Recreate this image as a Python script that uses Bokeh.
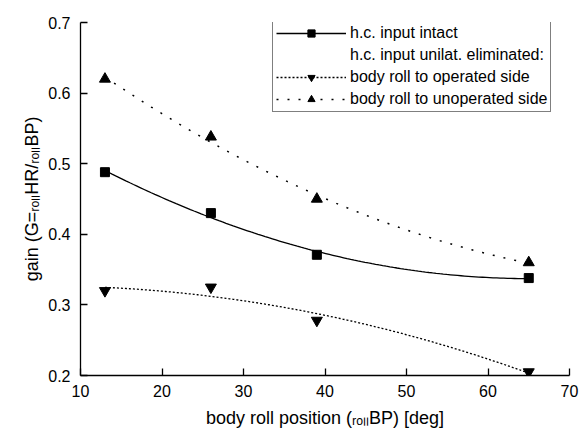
import numpy as np
from bokeh.plotting import figure
from bokeh.models import Legend, LegendItem, Range1d
from bokeh.embed import file_html
from bokeh.resources import INLINE

# ---- data ----
position = [13, 26, 39, 65]                      # body roll position [deg]
gain_intact = [0.488, 0.430, 0.371, 0.338]      # h.c. input intact
gain_operated = [0.320, 0.325, 0.278, 0.205]    # body roll to operated side
gain_unoperated = [0.620, 0.538, 0.450, 0.360]  # body roll to unoperated side
x_ticks = [10, 20, 30, 40, 50, 60, 70]
y_ticks = [0.2, 0.3, 0.4, 0.5, 0.6, 0.7]
legend_labels = ["h.c. input intact", "h.c. input unilat. eliminated:",
                 "body roll to operated side", "body roll to unoperated side"]
x_label = "body roll position (\u1d63\u2092\u2097\u2097BP) [deg]"
y_label = "gain (G=\u1d63\u2092\u2097\u2097HR/\u1d63\u2092\u2097\u2097BP)"

FONT = "Liberation Sans"

p = figure(frame_width=489, frame_height=353, output_backend="svg", toolbar_location=None,
           x_range=Range1d(10, 70), y_range=Range1d(0.2, 0.7),
           min_border_left=80, min_border_right=16, min_border_top=22, min_border_bottom=54)
p.background_fill_color = "white"
p.border_fill_color = "white"
p.outline_line_color = None
p.xgrid.visible = False
p.ygrid.visible = False

for ax in (p.xaxis[0], p.yaxis[0]):
    ax.axis_line_color = "black"
    ax.axis_line_width = 1.3
    ax.major_tick_line_color = "black"
    ax.major_tick_line_width = 1.3
    ax.major_tick_in = 7
    ax.major_tick_out = 0
    ax.minor_tick_line_color = None
    ax.major_label_text_font = FONT
    ax.major_label_text_font_size = "16px"
    ax.major_label_text_color = "black"
    ax.axis_label_text_font = FONT
    ax.axis_label_text_font_size = "18px"
    ax.axis_label_text_font_style = "normal"
    ax.axis_label_text_color = "black"
p.xaxis.ticker = x_ticks
p.yaxis.ticker = y_ticks
p.xaxis.major_label_standoff = 9
p.yaxis.major_label_standoff = 10
p.xaxis.axis_label = x_label
p.yaxis.axis_label = y_label
p.xaxis.axis_label_standoff = 8
p.yaxis.axis_label_standoff = 3

# quadratic fits, as drawn in the original figure
xs = np.linspace(min(position), max(position), 120)
fit_int = np.polyval(np.polyfit(position, gain_intact, 2), xs)
fit_op = np.polyval(np.polyfit(position, gain_operated, 2), xs)
fit_unop = np.polyval(np.polyfit(position, gain_unoperated, 2), xs)

r_int_l = p.line(xs, fit_int, line_color="black", line_width=1.3)
r_int_m = p.scatter(position, gain_intact, marker="square", size=9, color="black")
r_op_l = p.line(xs, fit_op, line_color="black", line_width=1.3, line_dash="2 2")
r_op_m = p.scatter(position, gain_operated, marker="inverted_triangle", size=11, color="black")
r_unop_l = p.line(xs, fit_unop, line_color="black", line_width=1.5, line_dash="2 9")
r_unop_m = p.scatter(position, gain_unoperated, marker="triangle", size=11, color="black")
r_blank = p.line([], [], line_alpha=0)

legend = Legend(items=[
    LegendItem(label=legend_labels[0], renderers=[r_int_l, r_int_m]),
    LegendItem(label=legend_labels[1], renderers=[r_blank]),
    LegendItem(label=legend_labels[2], renderers=[r_op_l, r_op_m]),
    LegendItem(label=legend_labels[3], renderers=[r_unop_l, r_unop_m]),
], location=(192, 263))
legend.border_line_color = "black"
legend.border_line_width = 1
legend.background_fill_alpha = 1
legend.padding = 3
legend.margin = 0
legend.spacing = 4
legend.glyph_height = 18
legend.label_height = 18
legend.glyph_width = 70
legend.label_standoff = 4
legend.label_text_font = FONT
legend.label_text_font_size = "16px"
legend.label_text_color = "black"
p.add_layout(legend)

open("out.html", "w").write(file_html(p, INLINE))
